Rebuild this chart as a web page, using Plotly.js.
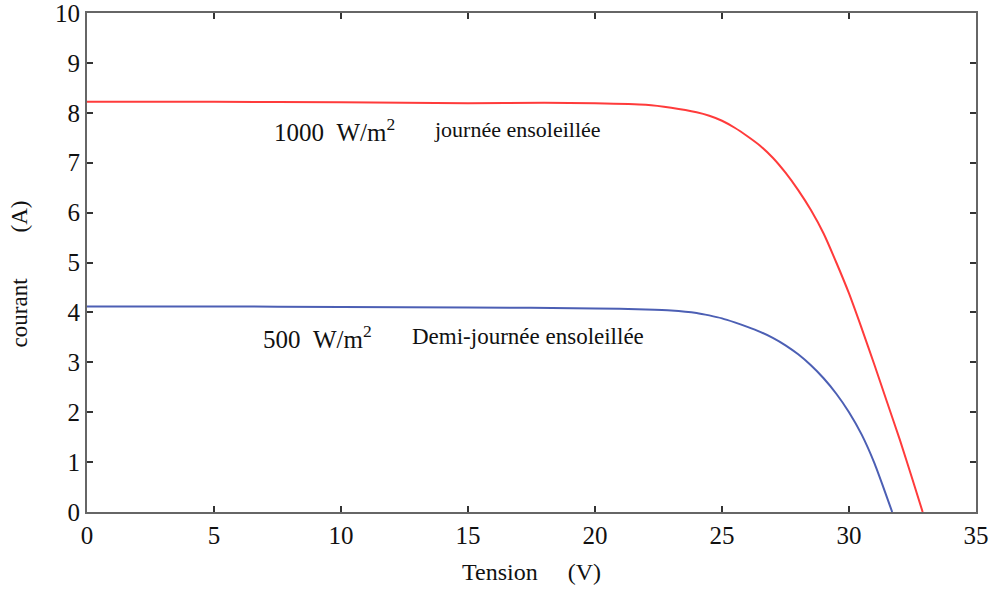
<!DOCTYPE html>
<html><head><meta charset="utf-8">
<script src="https://cdn.plot.ly/plotly-3.0.1.min.js"></script>
<style>body{margin:0;background:#fff}#c{width:994px;height:590px}</style>
</head><body><div id="c"></div>
<script>
var v1000 = [0, 5, 10, 15, 18, 20, 22, 23, 24, 24.5, 25, 25.5, 26, 26.5, 27, 27.5, 28, 28.5, 29, 29.5, 30, 30.5, 31, 31.5, 32, 32.5, 32.9];
var i1000 = [8.22, 8.22, 8.21, 8.19, 8.2, 8.19, 8.16, 8.1, 8.01, 7.94, 7.84, 7.70, 7.53, 7.34, 7.10, 6.80, 6.45, 6.05, 5.58, 5.0, 4.38, 3.68, 2.95, 2.2, 1.45, 0.65, 0];
var v500 = [0, 5, 10, 15, 20, 22, 23, 24, 24.5, 25, 25.5, 26, 26.5, 27, 27.5, 28, 28.5, 29, 29.5, 30, 30.5, 31, 31.35, 31.7];
var i500 = [4.12, 4.12, 4.11, 4.10, 4.08, 4.06, 4.04, 3.99, 3.94, 3.88, 3.80, 3.71, 3.61, 3.49, 3.34, 3.16, 2.94, 2.68, 2.37, 2.00, 1.55, 0.98, 0.5, 0];
var xTicks = [0, 5, 10, 15, 20, 25, 30, 35];
var yTicks = [0, 1, 2, 3, 4, 5, 6, 7, 8, 9, 10];
var NB = '\u00A0';
function sp(n) { return new Array(n + 1).join(NB); }

var serif = 'Liberation Serif, Times New Roman, serif';
var traces = [
  {x: v1000, y: i1000, mode: 'lines', line: {color: '#ff3b3b', width: 2, shape: 'spline', smoothing: 0.5}, hoverinfo: 'skip'},
  {x: v500, y: i500, mode: 'lines', line: {color: '#4c5fb4', width: 2, shape: 'spline', smoothing: 0.5}, hoverinfo: 'skip'}
];
var axisCommon = {
  showgrid: false, zeroline: false, showline: true, linecolor: '#666', linewidth: 2,
  mirror: 'allticks', ticks: 'inside', ticklen: 6, tickwidth: 2, tickcolor: '#333',
  ticklabeloverflow: 'allow',
  tickfont: {family: serif, size: 25, color: '#111'}
};
var layout = {
  width: 994, height: 590,
  margin: {l: 87, r: 18, t: 13, b: 78},
  paper_bgcolor: '#fff', plot_bgcolor: '#fff',
  showlegend: false,
  xaxis: Object.assign({}, axisCommon, {
    range: [0, 35], tickvals: xTicks, ticktext: xTicks.map(String),
    title: {text: 'Tension' + sp(5) + '(V)' + sp(3), font: {family: serif, size: 24, color: '#111'}, standoff: 15}
  }),
  yaxis: Object.assign({}, axisCommon, {
    range: [0, 10], tickvals: yTicks, ticktext: yTicks.map(String)
  }),
  annotations: [
    {xref: 'paper', yref: 'paper', x: -0.0754, y: 0.478, xanchor: 'center', yanchor: 'middle',
     textangle: -90, showarrow: false,
     text: 'courant' + sp(8) + '(A)', font: {family: serif, size: 23, color: '#111'}},
    {x: 7.3, y: 7.66, xanchor: 'left', yanchor: 'middle', showarrow: false,
     text: '1000' + sp(2) + 'W/m<sup>2</sup>', font: {family: serif, size: 25, color: '#111'}},
    {x: 13.58, y: 7.66, xanchor: 'left', yanchor: 'middle', showarrow: false,
     text: 'journée ensoleillée', font: {family: serif, size: 22, color: '#111'}},
    {x: 6.85, y: 3.51, xanchor: 'left', yanchor: 'middle', showarrow: false,
     text: '500' + sp(2) + 'W/m<sup>2</sup>', font: {family: serif, size: 25, color: '#111'}},
    {x: 12.72, y: 3.51, xanchor: 'left', yanchor: 'middle', showarrow: false,
     text: 'Demi-journée ensoleillée', font: {family: serif, size: 23, color: '#111'}}
  ]
};
Plotly.newPlot('c', traces, layout, {staticPlot: true, displayModeBar: false});
</script></body></html>
